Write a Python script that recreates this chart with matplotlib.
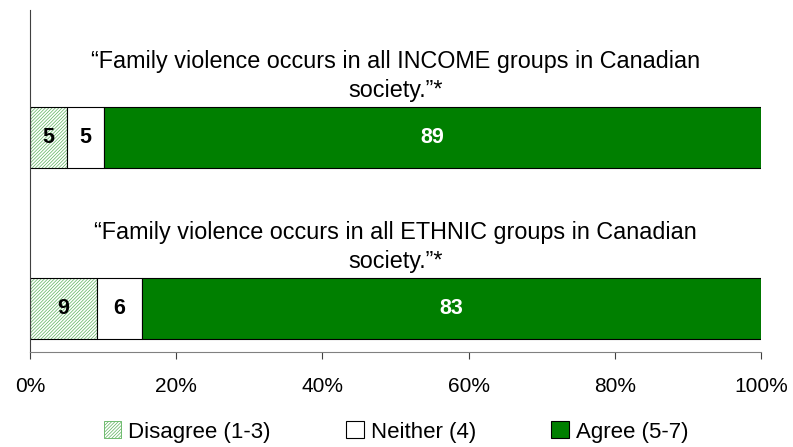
import matplotlib
matplotlib.use("Agg")
import matplotlib.pyplot as plt
from matplotlib.patches import Patch

categories = ["“Family violence occurs in all ETHNIC groups in Canadian\nsociety.”*",
              "“Family violence occurs in all INCOME groups in Canadian\nsociety.”*"]
disagree = [9, 5]
neither = [6, 5]
agree = [83, 89]
series_names = ["Disagree (1-3)", "Neither (4)", "Agree (5-7)"]
xticks = [0, 20, 40, 60, 80, 100]

plt.rcParams['font.family'] = ["Liberation Sans", "DejaVu Sans"]
plt.rcParams['hatch.linewidth'] = 0.5

fig = plt.figure(figsize=(7.93, 4.47), dpi=100)
ax = fig.add_axes([30/793, (447-352)/447, (761-30)/793, 342/447])

# 100% stacked: normalise each row to its total
totals = [d + n + a for d, n, a in zip(disagree, neither, agree)]
d_s = [d / t * 100 for d, t in zip(disagree, totals)]
n_s = [n / t * 100 for n, t in zip(neither, totals)]
a_s = [a / t * 100 for a, t in zip(agree, totals)]

ys = [0, 1]
h = 0.357
green = "#007f00"
hatch_green = "#5cb25c"
HATCH = "/" * 10

ax.barh(ys, d_s, height=h, color="white", edgecolor=hatch_green, hatch=HATCH, linewidth=0)
ax.barh(ys, d_s, height=h, color="none", edgecolor="black", linewidth=0.8)
ax.barh(ys, n_s, left=d_s, height=h, color="white", edgecolor="black", linewidth=0.8)
left3 = [a + b for a, b in zip(d_s, n_s)]
ax.barh(ys, a_s, left=left3, height=h, color=green, edgecolor="black", linewidth=0.8)

for y, d, n, a, ds, ns, as_ in zip(ys, disagree, neither, agree, d_s, n_s, a_s):
    ax.text(ds/2, y, str(d), ha="center", va="center", fontsize=15.5, fontweight="bold", color="black")
    ax.text(ds + ns/2, y, str(n), ha="center", va="center", fontsize=15.5, fontweight="bold", color="black")
    ax.text(ds + ns + as_/2, y, str(a), ha="center", va="center", fontsize=15.5, fontweight="bold", color="white")

for y, c in zip(ys, categories):
    ax.text(50, y + 0.36, c, ha="center", va="center", fontsize=16.8, linespacing=1.3)

ax.set_xlim(0, 100)
ax.set_ylim(-0.254, 1.746)
ax.set_xticks(xticks)
ax.set_xticklabels([f"{t}%" for t in xticks], fontsize=15)
ax.set_yticks([])
for s in ["top", "right"]:
    ax.spines[s].set_visible(False)
ax.spines["left"].set_color("#404040")
ax.spines["bottom"].set_color("#808080")
ax.tick_params(axis="x", direction="out", length=5, color="#404040", pad=13)

handles = [Patch(facecolor="white", edgecolor=hatch_green, hatch=HATCH, linewidth=0.6),
           Patch(facecolor="white", edgecolor="black", linewidth=0.8),
           Patch(facecolor=green, edgecolor="black", linewidth=0.8)]
leg = fig.legend(handles, series_names, loc="center", bbox_to_anchor=(396/793, 1 - 432/447),
                 ncol=3, frameon=False, fontsize=16, handlelength=0.8, handleheight=0.8,
                 handletextpad=0.3, columnspacing=3.4)

fig.savefig("out.png", dpi=100)
